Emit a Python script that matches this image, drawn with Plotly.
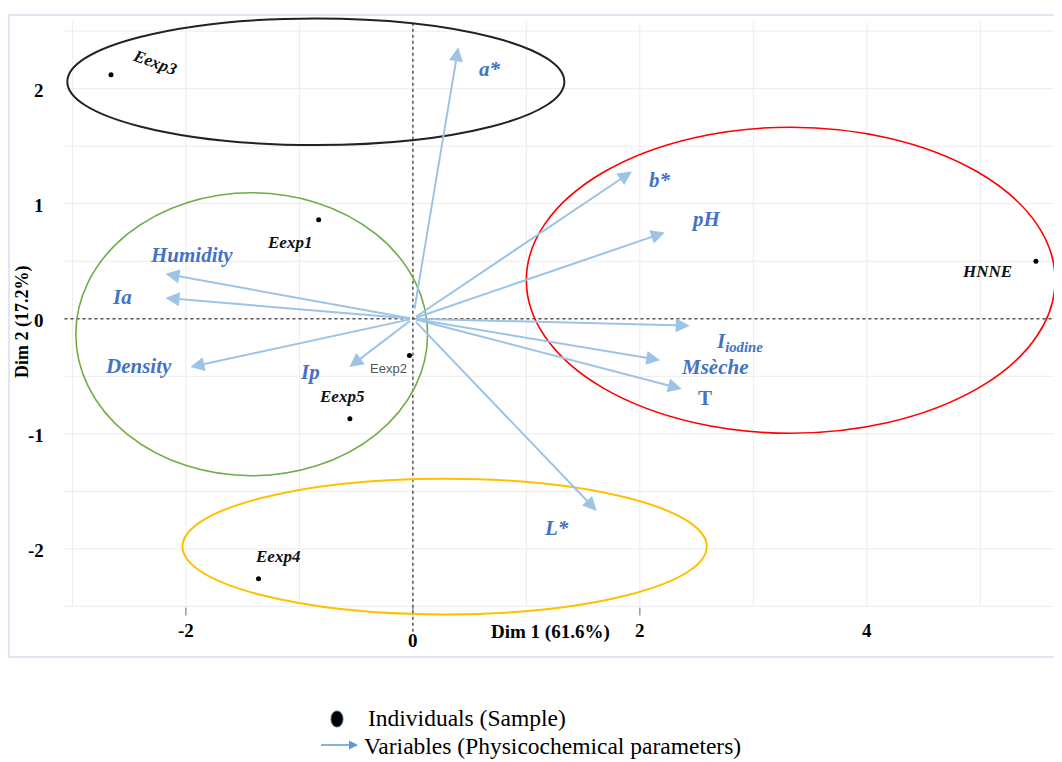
import plotly.graph_objects as go

# ---------------- data ----------------
ind_names = ["Eexp3", "Eexp1", "Eexp2", "Eexp5", "Eexp4", "HNNE"]
ind_dim1 = [-2.66, -0.83, -0.03, -0.555, -1.36, 5.49]
ind_dim2 = [2.12, 0.86, -0.32, -0.87, -2.26, 0.50]

var_names = ["a*", "b*", "pH", "I<sub>iodine</sub>", "Msèche", "T", "L*",
             "Humidity", "Ia", "Density", "Ip"]
var_dim1 = [0.40, 1.93, 2.22, 2.44, 2.18, 2.37, 1.62, -2.18, -2.18, -1.96, -0.56]
var_dim2 = [2.36, 1.28, 0.75, -0.06, -0.36, -0.61, -1.67, 0.39, 0.18, -0.42, -0.42]

# group ellipses: centre x, centre y, radius x, radius y
ell_cx = [-0.855, -1.42, 3.33, 0.28]
ell_cy = [2.06, -0.135, 0.335, -1.98]
ell_rx = [2.19, 1.55, 2.33, 2.31]
ell_ry = [0.55, 1.23, 1.33, 0.59]

x_ticks = [-2, 0, 2, 4]
y_ticks = [-2, -1, 0, 1, 2]
x_title = "Dim 1 (61.6%)"
y_title = "Dim 2 (17.2%)"
legend_texts = ["Individuals (Sample)", "Variables (Physicochemical parameters)"]

# ---------------- styles ----------------
OFF = 8                      # page body margin
W, H = 1062 - OFF, 762 - OFF
ML, MR, MT, MB = 2, 0, 7, 105
PW, PH = W - ML - MR, H - MT - MB
XR = [-3.55, 5.72]
YR = [-2.94, 2.64]
SERIF = "Liberation Serif, Times New Roman, serif"
ARROW_C = "#9dc3e6"
VAR_C = "#4472c4"

ind_shift = [(44, 12), (-29, -23), (-21, -13), (-8, 22), (19, 22), (-49, -10)]
ind_angle = [20, 0, 0, 0, 0, 0]
var_shift = [(32, -22), (28, -9), (41, 13), (50, -16), (55, -7), (23, -9),
             (-40, -17), (26, 19), (-43, 1), (-52, 1), (-39, -5)]
ell_colors = ["#222222", "#70ad47", "#ff0000", "#ffc000"]
ell_widths = [2, 1.6, 1.6, 2]


def px(xp):  # page pixel x -> paper
    return (xp - OFF - ML) / PW


def py(yp):  # page pixel y -> paper
    return (H - MB - (yp - OFF)) / PH


fig = go.Figure()

shapes = []
# plot border
shapes.append(dict(type="rect", xref="paper", yref="paper", x0=px(9), x1=1.0,
                   y0=py(657), y1=py(15), line=dict(color="#d6def0", width=1.5),
                   layer="below"))
# gridlines
for gx in range(-3, 6):
    shapes.append(dict(type="line", xref="x", yref="y", x0=gx, x1=gx, y0=-2.5, y1=2.58,
                       line=dict(color="#ececec", width=1), layer="below"))
for k in range(-5, 6):
    gy = k * 0.5
    shapes.append(dict(type="line", xref="x", yref="y", x0=-3.07, x1=XR[1], y0=gy, y1=gy,
                       line=dict(color="#ececec", width=1), layer="below"))
# small tick marks on the x axis
for t in x_ticks[:3]:
    shapes.append(dict(type="line", xref="x", yref="y", x0=t, x1=t, y0=-2.51, y1=-2.58,
                       line=dict(color="#999999", width=1.5)))
# zero lines (dotted)
shapes.append(dict(type="line", xref="x", yref="y", x0=-3.07, x1=XR[1], y0=0, y1=0,
                   line=dict(color="#555555", width=1.5, dash="dot")))
shapes.append(dict(type="line", xref="x", yref="y", x0=0, x1=0, y0=-2.72, y1=2.58,
                   line=dict(color="#555555", width=1.5, dash="dot")))
# ellipses
for cx, cy, rx, ry, c, w in zip(ell_cx, ell_cy, ell_rx, ell_ry, ell_colors, ell_widths):
    shapes.append(dict(type="circle", xref="x", yref="y", x0=cx - rx, x1=cx + rx,
                       y0=cy - ry, y1=cy + ry, line=dict(color=c, width=w)))
# legend dot
shapes.append(dict(type="circle", xref="paper", yref="paper", x0=px(331), x1=px(343),
                   y0=py(727), y1=py(711), fillcolor="black",
                   line=dict(color="#2e5c8a", width=1)))

annotations = []
# variable arrows + labels
for name, vx, vy, (sx, sy) in zip(var_names, var_dim1, var_dim2, var_shift):
    annotations.append(dict(x=vx, y=vy, ax=0, ay=0, xref="x", yref="y", axref="x", ayref="y",
                            text=" ", showarrow=True, arrowhead=2, arrowsize=1.4,
                            arrowwidth=2, arrowcolor=ARROW_C, standoff=0))
    fnt = dict(family=SERIF, size=21, color=VAR_C)
    txt = "<b>T</b>" if name == "T" else "<b><i>" + name + "</i></b>"
    annotations.append(dict(x=vx, y=vy, xref="x", yref="y", text=txt, showarrow=False,
                            xanchor="center", yanchor="middle",
                            xshift=sx, yshift=sy, font=fnt))

# individuals labels
for name, ix, iy, (sx, sy), ang in zip(ind_names, ind_dim1, ind_dim2, ind_shift, ind_angle):
    if name == "Eexp2":
        txt = name
        fnt = dict(family="Liberation Sans, Arial, sans-serif", size=13, color="#555555")
    else:
        txt = "<b><i>" + name + "</i></b>"
        fnt = dict(family=SERIF, size=17, color="#111111")
    annotations.append(dict(x=ix, y=iy, xref="x", yref="y", text=txt, showarrow=False,
                            xanchor="center", yanchor="middle",
                            xshift=sx, yshift=sy, textangle=ang, font=fnt))

# tick labels
tick_font = dict(family=SERIF, size=19, color="black")
for t in y_ticks:
    annotations.append(dict(x=px(46), y=t, xref="paper", yref="y", text="<b>%d</b>" % t,
                            showarrow=False, xanchor="right", yanchor="middle",
                            yshift=-2, font=tick_font))
for t in x_ticks:
    yp = 640 if t == 0 else 630
    annotations.append(dict(x=t, y=py(yp), xref="x", yref="paper", text="<b>%d</b>" % t,
                            showarrow=False, xanchor="center", yanchor="middle",
                            font=tick_font))
# axis titles
annotations.append(dict(x=px(550), y=py(632), xref="paper", yref="paper",
                        text="<b>" + x_title + "</b>", showarrow=False,
                        xanchor="center", yanchor="middle",
                        font=dict(family=SERIF, size=19, color="black")))
annotations.append(dict(x=px(22), y=py(322), xref="paper", yref="paper",
                        text="<b>" + y_title + "</b>", showarrow=False, textangle=-90,
                        xanchor="center", yanchor="middle",
                        font=dict(family=SERIF, size=18, color="black")))
# legend
annotations.append(dict(x=px(366), y=py(718), xref="paper", yref="paper", text=legend_texts[0],
                        showarrow=False, xanchor="left", yanchor="middle",
                        font=dict(family=SERIF, size=23.5, color="black")))
annotations.append(dict(x=px(362), y=py(746), xref="paper", yref="paper", text=legend_texts[1],
                        showarrow=False, xanchor="left", yanchor="middle",
                        font=dict(family=SERIF, size=23.5, color="black")))
annotations.append(dict(x=px(358), y=py(745), xref="paper", yref="paper", ax=-40, ay=0,
                        text=" ", showarrow=True, arrowhead=2, arrowsize=1.2, arrowwidth=1.5,
                        arrowcolor="#5b9bd5", standoff=0))

# individuals points
fig.add_trace(go.Scatter(x=ind_dim1, y=ind_dim2, mode="markers",
                         marker=dict(color="black", size=5), showlegend=False,
                         hovertext=ind_names, cliponaxis=False))

fig.update_layout(
    width=W, height=H, margin=dict(l=ML, r=MR, t=MT, b=MB),
    paper_bgcolor="white", plot_bgcolor="white",
    xaxis=dict(range=XR, showgrid=False, zeroline=False, showticklabels=False,
               ticks="", showline=False, fixedrange=True),
    yaxis=dict(range=YR, showgrid=False, zeroline=False, showticklabels=False,
               ticks="", showline=False, fixedrange=True),
    shapes=shapes, annotations=annotations, showlegend=False,
)

fig.write_html("out.html")
